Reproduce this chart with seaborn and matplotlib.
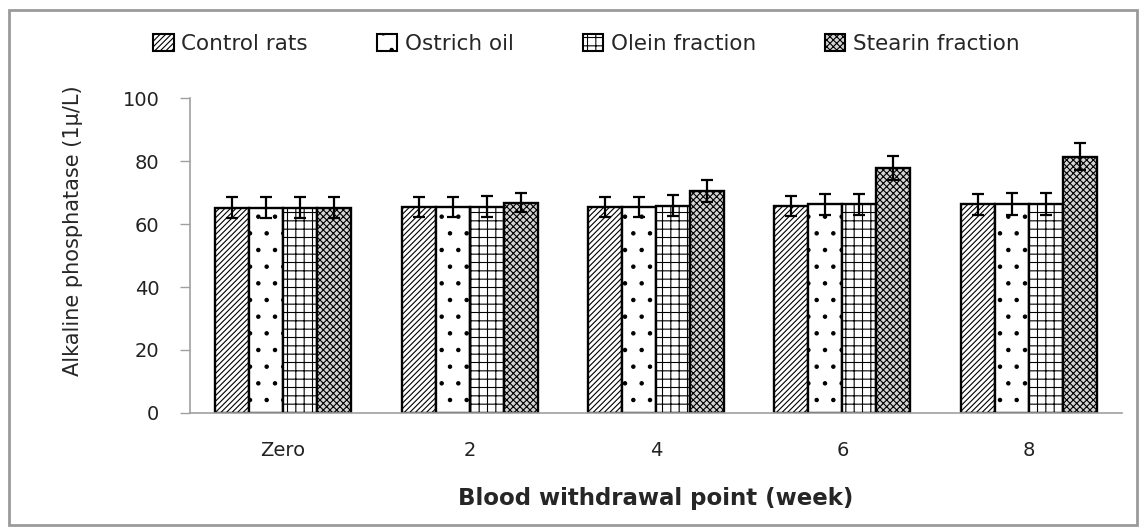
import matplotlib
matplotlib.use("Agg")
from matplotlib import pyplot as plt
from matplotlib.patches import Patch, Rectangle
import numpy as np
import pandas as pd
import seaborn as sns

# values
weeks = ["Zero", "2", "4", "6", "8"]
groups = ["Control rats", "Ostrich oil", "Olein fraction", "Stearin fraction"]
control = [65.2, 65.5, 65.3, 65.7, 66.2]
ostrich = [65.2, 65.5, 65.3, 66.2, 66.3]
olein = [65.2, 65.5, 65.8, 66.2, 66.3]
stearin = [65.2, 66.8, 70.5, 77.7, 81.4]
control_err = [3.3, 3.2, 3.2, 3.2, 3.2]
ostrich_err = [3.3, 3.2, 3.2, 3.3, 3.4]
olein_err = [3.3, 3.4, 3.4, 3.3, 3.4]
stearin_err = [3.3, 3.0, 3.5, 3.8, 4.2]

values = [control, ostrich, olein, stearin]
errors = [control_err, ostrich_err, olein_err, stearin_err]
hatches = ["//////", ".", "++", "xxxxx"]
faces = ["white", "white", "white", "#d4d4d4"]

df = pd.DataFrame({
    "week": np.tile(weeks, len(groups)),
    "group": np.repeat(groups, len(weeks)),
    "value": np.concatenate(values),
})

sns.set_style("white")
plt.rcParams["hatch.linewidth"] = 0.8

fig = plt.figure(figsize=(11.43, 5.3), dpi=100)
ax = fig.add_axes([0.1662, 0.2208, 0.8154, 0.5942])

sns.barplot(data=df, x="week", y="value", hue="group", order=weeks,
            hue_order=groups, errorbar=None, width=0.73, ax=ax,
            palette=["white"] * 4, legend=False)

bar_containers = list(ax.containers)
for i, cont in enumerate(bar_containers):
    xs = []
    for bar in cont.patches:
        bar.set_facecolor(faces[i])
        bar.set_hatch(hatches[i])
        bar.set_edgecolor("black")
        bar.set_linewidth(1.7)
        xs.append(bar.get_x() + bar.get_width() / 2)
    ax.errorbar(xs, values[i], yerr=errors[i], fmt="none", ecolor="black",
                elinewidth=1.6, capsize=4.5, capthick=1.6, zorder=5)

ax.set_ylim(0, 100)
ax.set_xlim(-0.5, len(weeks) - 0.5)
ax.set_yticks(range(0, 101, 20))
ax.set_xticks(np.arange(-0.5, len(weeks), 1), minor=True)
ax.tick_params(axis="x", which="major", length=0, pad=20, labelsize=14)
ax.tick_params(axis="x", which="minor", length=7, color="#a0a0a0", width=1)
ax.tick_params(axis="y", length=7, color="#a0a0a0", width=1, labelsize=14,
               pad=15, left=True)
for lab in ax.get_xticklabels() + ax.get_yticklabels():
    lab.set_color("#222222")

sns.despine(ax=ax)
for side in ["left", "bottom"]:
    ax.spines[side].set_color("#a0a0a0")
    ax.spines[side].set_linewidth(1.2)

ax.set_xlabel("Blood withdrawal point (week)", fontsize=16.5, fontweight="bold")
ax.xaxis.set_label_coords(0.5, -0.235)
ax.set_ylabel("Alkaline phosphatase (1\u00b5/L)", fontsize=15)
ax.yaxis.set_label_coords(-0.1148, 0.578)

handles = [Patch(facecolor=faces[i], edgecolor="black", hatch=hatches[i],
                 linewidth=1.5, label=groups[i]) for i in range(len(groups))]
fig.legend(handles=handles, loc="center", bbox_to_anchor=(0.513, 0.917),
           ncol=4, frameon=False, handlelength=0.95,
           handleheight=0.85, handletextpad=0.35, columnspacing=3.2,
           prop={"size": 15.5})

fig.patches.append(Rectangle((0.008, 0.01), 0.987, 0.972,
                             transform=fig.transFigure, fill=False,
                             edgecolor="#9a9a9a", linewidth=2))

fig.savefig("out.png", dpi=100)
